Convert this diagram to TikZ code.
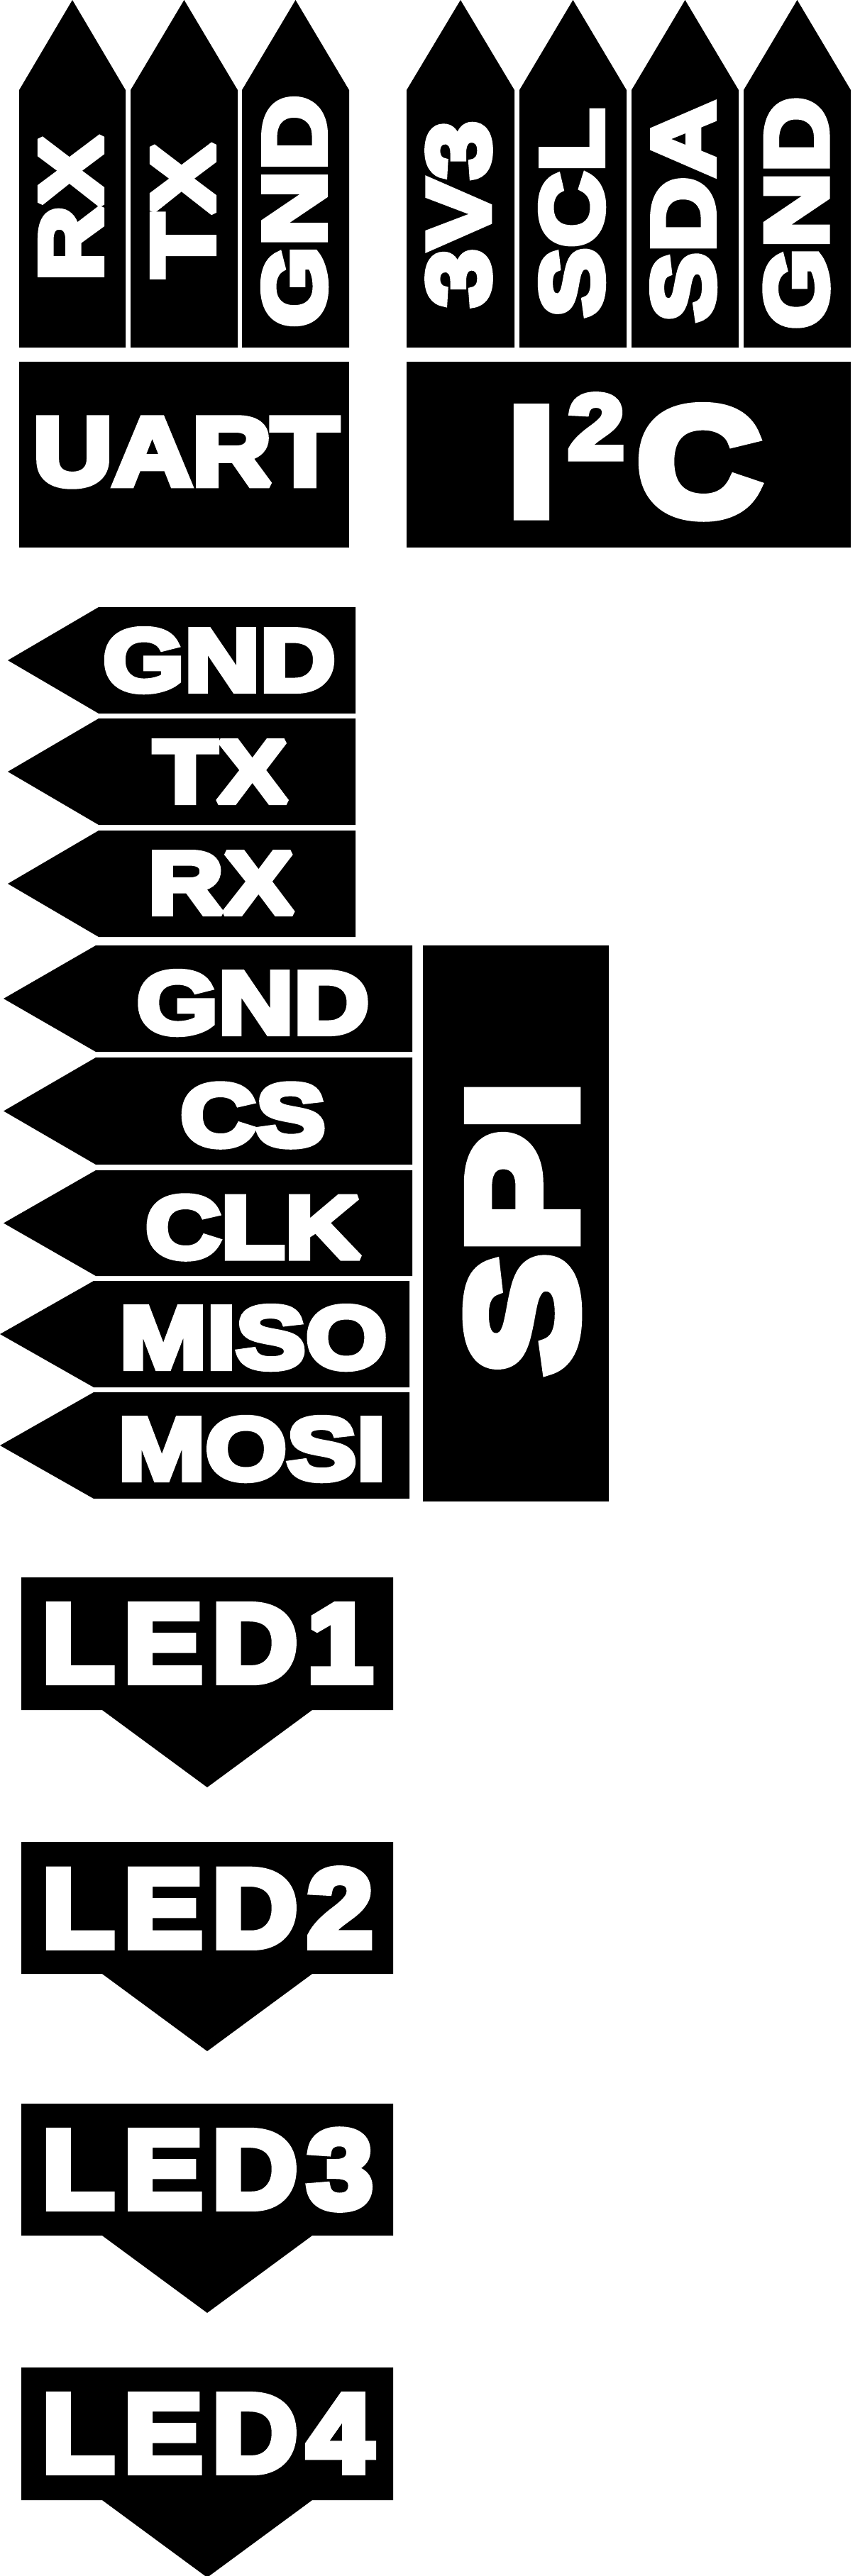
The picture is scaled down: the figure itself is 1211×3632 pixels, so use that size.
\documentclass[tikz,border=0pt]{standalone}
\usepackage{fontspec}
\newfontfamily\labelfont{Liberation Sans}[FakeStretch=1.19,FakeBold=7]
\newfontfamily\busfont{Liberation Sans}[FakeStretch=1.14,FakeBold=7]
\newfontfamily\chipfont{Liberation Sans}[FakeStretch=1.12,FakeBold=7]
\newfontfamily\ledfont{Liberation Sans}[FakeStretch=1.07,LetterSpace=8.5,FakeBold=7]
\begin{document}
\begin{tikzpicture}[
  x=1pt, y=-1pt, line join=miter, miter limit=2,
  plate/.style={fill=black},
  lbl/.style={text=white, inner sep=0pt},
  pinlbl/.style={lbl, font=\labelfont\bfseries\fontsize{124}{124}\selectfont},
  uplbl/.style={pinlbl, rotate=90},
  buslbl/.style={lbl, font=\busfont\bfseries\fontsize{136}{136}\selectfont},
  biglbl/.style={lbl, font=\labelfont\bfseries\fontsize{217}{217}\selectfont},
  chiplbl/.style={lbl, font=\chipfont\bfseries\fontsize{217}{217}\selectfont},
  ledlbl/.style={lbl, anchor=west, font=\ledfont\bfseries\fontsize{156}{156}\selectfont}
]
\fill[white] (0,0) rectangle (1211,3632);
\useasboundingbox (0,0) rectangle (1211,3632);

% UART header
\fill[plate] (27,490) -- (27,127) -- (102,0) -- (177,127) -- (177,490) -- cycle;
\fill[plate] (184,490) -- (184,127) -- (259.5,0) -- (335,127) -- (335,490) -- cycle;
\fill[plate] (341,490) -- (341,127) -- (416.5,0) -- (492,127) -- (492,490) -- cycle;
\fill[plate] (27,510) rectangle (492,772);
\node[uplbl] (urx) at (100,294) {RX};
\node[uplbl] (utx) at (258,297) {TX};
\node[uplbl] (ugnd) at (415,298) {GND};
\node[buslbl] (uart) at (262,637.5) {UART};

% I2C header
\fill[plate] (573,490) -- (573,127) -- (649,0) -- (725,127) -- (725,490) -- cycle;
\fill[plate] (732,490) -- (732,127) -- (807.5,0) -- (883,127) -- (883,490) -- cycle;
\fill[plate] (890,490) -- (890,127) -- (965.5,0) -- (1041,127) -- (1041,490) -- cycle;
\fill[plate] (1048,490) -- (1048,127) -- (1123.5,0) -- (1199,127) -- (1199,490) -- cycle;
\fill[plate] (573,510) rectangle (1199,772);
\node[uplbl] (i3v3) at (646.5,302) {3V3};
\node[uplbl] (iscl) at (806,300) {SCL};
\node[uplbl] (isda) at (963,298.5) {SDA};
\node[uplbl] (ignd) at (1122.5,300.5) {GND};
\node[chiplbl, anchor=base west] (i2c) at (715,726)
  {I\kern17.5pt\raisebox{80pt}{\fontsize{128}{128}\selectfont 2}\kern17.5pt C};

% serial pins
\fill[plate] (501,856) -- (139,856) -- (11,931) -- (139,1006) -- (501,1006) -- cycle;
\fill[plate] (501,1013) -- (139,1013) -- (11,1088) -- (139,1163) -- (501,1163) -- cycle;
\fill[plate] (501,1171) -- (139,1171) -- (11,1246) -- (139,1321) -- (501,1321) -- cycle;
\node[pinlbl] (sgnd) at (309,931) {GND};
\node[pinlbl] (stx) at (310.5,1088) {TX};
\node[pinlbl] (srx) at (311,1245) {RX};

% SPI pins
\fill[plate] (581,1333) -- (135,1333) -- (5,1408) -- (135,1483) -- (581,1483) -- cycle;
\fill[plate] (581,1491) -- (135,1491) -- (5,1566.5) -- (135,1642) -- (581,1642) -- cycle;
\fill[plate] (581,1650) -- (135,1650) -- (5,1724.5) -- (135,1799) -- (581,1799) -- cycle;
\fill[plate] (577,1806) -- (132,1806) -- (0,1881) -- (132,1956) -- (577,1956) -- cycle;
\fill[plate] (577,1963) -- (132,1963) -- (0,2038) -- (132,2113) -- (577,2113) -- cycle;
\fill[plate] (596,1333) rectangle (858,2117);
\node[pinlbl] (pgnd) at (356.5,1414) {GND};
\node[pinlbl] (pcs) at (356.5,1572.5) {CS};
\node[pinlbl] (pclk) at (356.5,1730.5) {CLK};
\node[pinlbl] (pmiso) at (357,1886) {MISO};
\node[pinlbl] (pmosi) at (355,2043) {MOSI};
\node[biglbl, rotate=90] (spi) at (736,1731) {SPI};

% LEDs
\fill[plate] (30,2224) -- (554,2224) -- (554,2411) -- (440,2411) -- (292,2520) -- (144,2411) -- (30,2411) -- cycle;
\fill[plate] (30,2597) -- (554,2597) -- (554,2783) -- (440,2783) -- (292,2892) -- (144,2783) -- (30,2783) -- cycle;
\fill[plate] (30,2966) -- (554,2966) -- (554,3152) -- (440,3152) -- (292,3261) -- (144,3152) -- (30,3152) -- cycle;
\fill[plate] (30,3338) -- (554,3338) -- (554,3525) -- (440,3525) -- (292,3634) -- (144,3525) -- (30,3525) -- cycle;
\node[ledlbl] (led1) at (59,2317) {LED1};
\node[ledlbl] (led2) at (59,2690) {LED2};
\node[ledlbl] (led3) at (59,3059) {LED3};
\node[ledlbl] (led4) at (59,3431) {LED4};
\end{tikzpicture}
\end{document}
